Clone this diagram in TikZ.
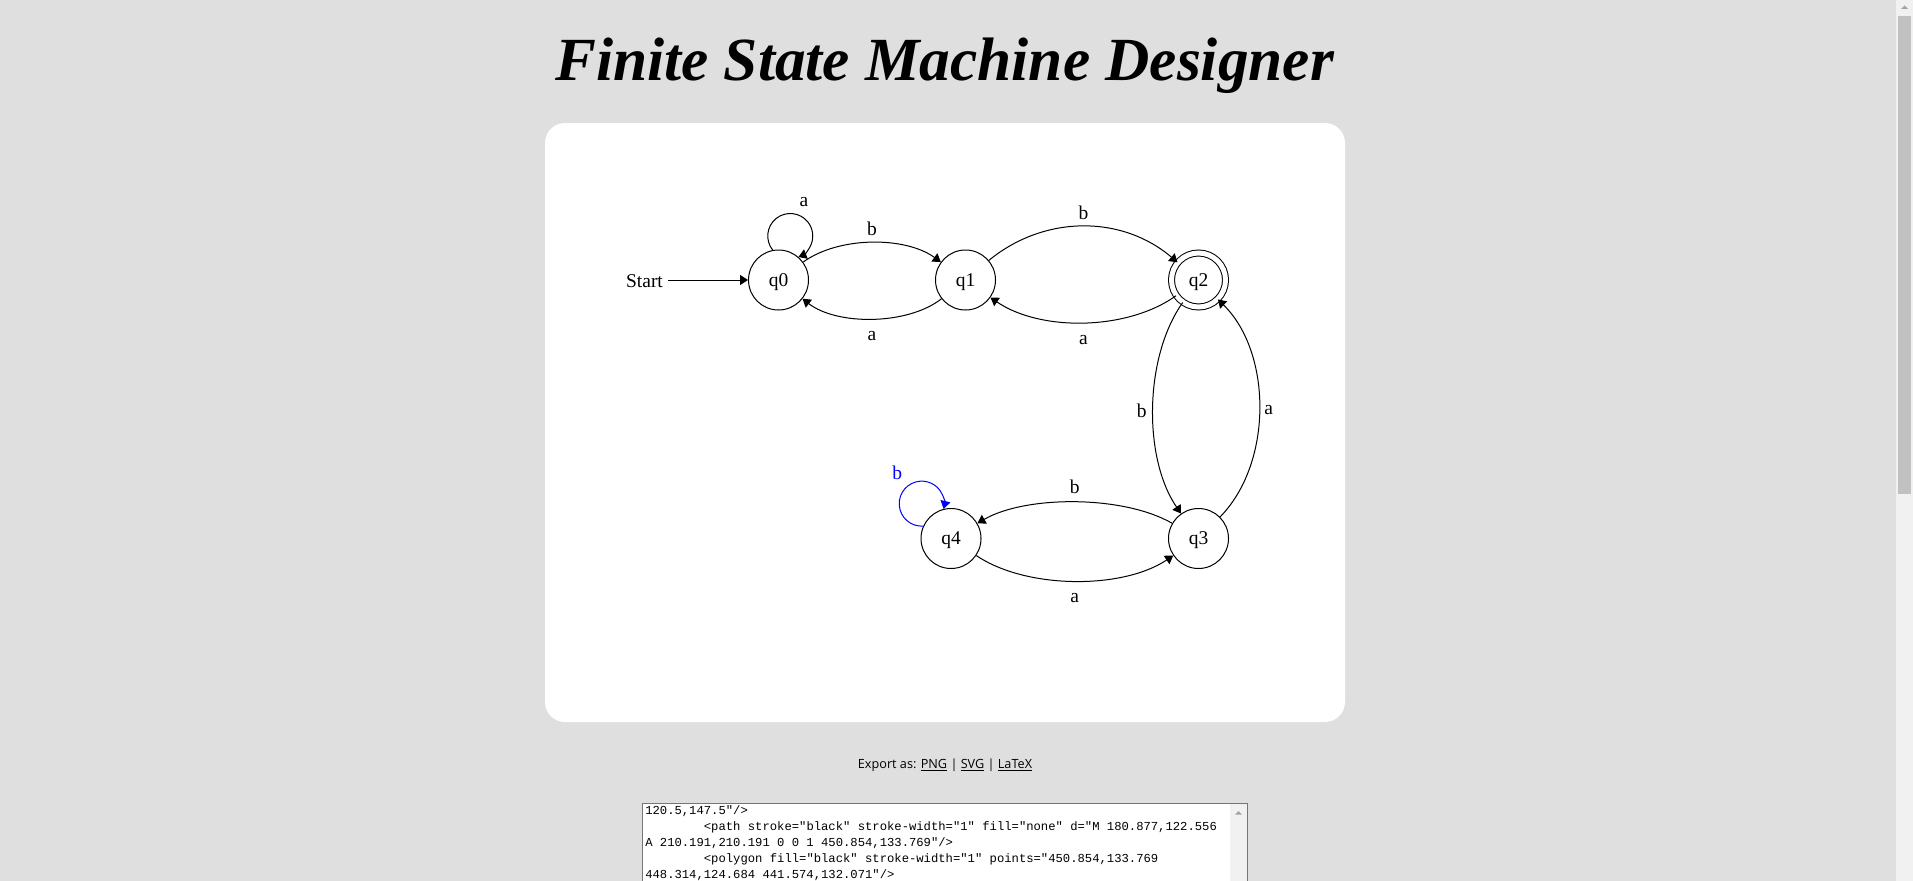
\documentclass[tikz,border=0pt]{standalone}
\usepackage{fontspec}
\setmainfont{Liberation Serif}
\setsansfont{Open Sans}
\setmonofont{Liberation Mono}
\usetikzlibrary{arrows.meta}

\definecolor{pagegray}{RGB}{223,223,223}
\definecolor{trackgray}{RGB}{241,241,241}
\definecolor{thumbgray}{RGB}{193,193,193}
\definecolor{arrowgray}{RGB}{163,163,163}
\definecolor{fieldgray}{RGB}{118,118,118}

\newcommand\codetab{\hphantom{00000000}}

\tikzset{
  state/.style={draw, circle, line width=0.75pt, minimum size=45pt, inner sep=0pt,
    text depth=0pt, font=\fontsize{14.6pt}{17pt}\selectfont},
  accept/.style={state, double, double distance=3.75pt, minimum size=40.5pt},
  link/.style={line width=0.75pt, -{Triangle[length=6pt,width=7.5pt]}},
  lbl/.style={font=\fontsize{14.6pt}{17pt}\selectfont, inner sep=0pt},
  codeline/.style={anchor=base west, inner sep=0pt, font=\fontsize{9.16pt}{11pt}\ttfamily},
}

\begin{document}
\begin{tikzpicture}[x=0.75pt,y=0.75pt]
\useasboundingbox (0,0) rectangle (1913,-881);
% page
\fill[pagegray] (0,0) rectangle (1913,-881);
\node[anchor=base, inner sep=0pt, font=\fontsize{46pt}{50pt}\selectfont\bfseries\itshape] (title) at (944.5,-81) {Finite State Machine Designer};
\fill[white, rounded corners=15pt] (545,-123) rectangle (1345,-722);

% states
\node[state] (q0) at (778.5,-280) {q0};
\node[state] (q1) at (965.5,-280) {q1};
\node[accept] (q2) at (1198.5,-280) {q2};
\node[state] (q3) at (1198.5,-538.5) {q3};
\node[state] (q4) at (951,-538.5) {q4};

% start arrow
\node[lbl, inner sep=3.75pt] (start) at (644.5,-281) {Start};
\draw[link] (start.east |- q0) -- (q0);

% transitions
\draw[link] (q0) to[bend left=36, looseness=0.82] node[lbl, midway, above=4.5pt] (lb01) {b} (q1);
\draw[link] (q1) to[bend left=38, looseness=0.8] node[lbl, midway, below=9.2pt] (la10) {a} (q0);
\draw[link] (q1) to[bend left=40, looseness=0.98] node[lbl, midway, above=5pt] (lb12) {b} (q2);
\draw[link] (q2) to[bend left=35, looseness=0.83] node[lbl, midway, below=9.2pt] (la21) {a} (q1);
\draw[link] (q2) to[bend right=35, looseness=0.81] node[lbl, midway, left=4.5pt, yshift=-2pt] (lb23) {b} (q3);
\draw[link] (q3) to[bend right=45, looseness=0.89] node[lbl, midway, right=3.5pt, yshift=-2pt] (la32) {a} (q2);
\draw[link] (q3) to[bend right=30, looseness=0.74] node[lbl, midway, above=6.3pt] (lb34) {b} (q4);
\draw[link] (q4) to[bend right=34, looseness=0.79] node[lbl, midway, below=8.7pt] (la43) {a} (q3);

% self loops
\draw[link] (q0.101.4) arc[start angle=218.65, end angle=-68.65, radius=16.875pt];
\node[lbl] (la00) at (804,-201.7) {a};
\draw[link, blue] (q4.156.4) arc[start angle=273.65, end angle=-13.65, radius=16.875pt];
\node[lbl, text=blue] (lb44) at (897.3,-473.3) {b};

% export line
\node[anchor=base, inner sep=0pt, font=\sffamily\fontsize{9.5pt}{11pt}\selectfont] (export) at (945,-768) {Export as: \underline{PNG} | \underline{SVG} | \underline{LaTeX}};

% text area
\draw[fieldgray, fill=white, line width=0.75pt] (642.5,-803.5) rectangle (1247,-900);
\fill[trackgray] (1230,-804) rectangle (1246.5,-881);
\fill[arrowgray] (1235,-814.7) -- (1242,-814.7) -- (1238.5,-811) -- cycle;
\begin{scope}
\clip (643,-804) rectangle (1230,-881);
\node[codeline] (c1) at (645,-814) {120.5,147.5"/>};
\node[codeline] (c2) at (645,-830) {\codetab<path stroke="black" stroke-width="1" fill="none" d="M 180.877,122.556};
\node[codeline] (c3) at (645,-846) {A 210.191,210.191 0 0 1 450.854,133.769"/>};
\node[codeline] (c4) at (645,-862) {\codetab<polygon fill="black" stroke-width="1" points="450.854,133.769};
\node[codeline] (c5) at (645,-878) {448.314,124.684 441.574,132.071"/>};
\node[codeline] (c6) at (645,-892) {\codetab<text x="310.5" y="46.5" font-family="Times New Roman" font-};
\end{scope}

% page scrollbar
\fill[trackgray] (1896,0) rectangle (1913,-881);
\fill[thumbgray] (1898,-16) rectangle (1911,-494);
\fill[arrowgray] (1901,-9) -- (1908,-9) -- (1904.5,-5.5) -- cycle;
\end{tikzpicture}
\end{document}
